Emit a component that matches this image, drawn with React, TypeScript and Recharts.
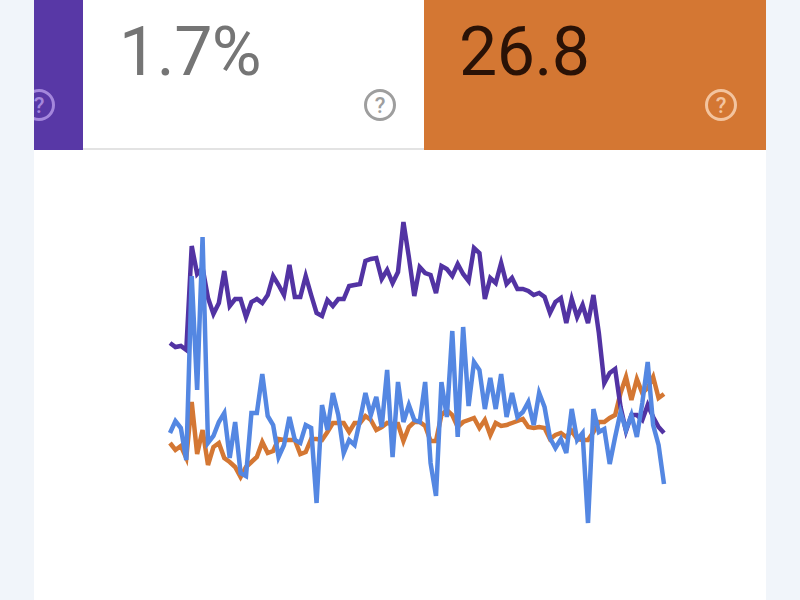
import React from 'react';
import { LineChart, Line, XAxis, YAxis } from 'recharts';

// values, one point per day
const impressions = [187,183,184,180,284,256,262,232,216,227,259,224,231,231,213,228,231,227,235,254,245,235,265,233,233,254,235,217,214,230,224,231,231,244,245,246,269,271,272,251,260,247,258,308,273,234,263,257,255,237,264,261,254,266,256,249,282,277,231,252,247,267,246,252,241,241,239,235,237,233,217,228,232,207,231,213,225,207,235,197,147,157,161,123,99,115,115,110,125,113,103,97];
const position = [87,80,84,72,128,76,100,65,83,87,72,68,63,53,63,68,73,88,77,79,91,90,90,90,76,78,91,91,90,98,107,107,107,98,107,107,114,110,100,103,107,106,106,89,103,108,108,104,89,89,115,120,115,103,108,110,112,102,110,95,107,104,105,107,109,111,103,102,103,102,91,95,97,93,99,91,90,90,98,108,108,112,115,137,153,130,151,137,142,153,132,136];
const clicks = [97,109,102,70,254,140,293,87,94,108,117,72,108,57,54,117,117,156,114,105,73,85,113,90,87,105,102,27,125,100,137,115,77,90,85,110,137,115,133,103,160,73,148,108,125,110,108,148,67,34,148,113,199,93,203,124,168,160,121,152,121,156,113,137,113,118,128,105,137,123,92,82,91,77,121,90,97,7,121,98,101,66,93,118,100,115,93,127,168,105,85,46];

const data = clicks.map((c, i) => ({ day: i, clicks: c, impressions: impressions[i], position: position[i] }));

const PURPLE = '#5838a6';
const ORANGE = '#d47733';
const BLUE = '#5487e2';

function HelpIcon({ left, color }: { left: number; color: string }) {
  return (
    <svg width={36} height={36} style={{ position: 'absolute', left, top: 87 }}>
      <circle cx={18} cy={18} r={14.5} fill='none' stroke={color} strokeWidth={3} />
      <text x={18} y={26} textAnchor='middle' fontSize={22} fontWeight={500} fontFamily='Roboto' fill={color}>?</text>
    </svg>
  );
}

export default function App() {
  return (
    <div style={{ position: 'absolute', left: 0, top: 0, width: 800, height: 600, overflow: 'hidden', background: '#f1f5fa', fontFamily: 'Roboto' }}>
      <div style={{ position: 'absolute', left: 34, top: 0, width: 732, height: 600, background: '#fff', overflow: 'hidden' }}>
        <div style={{ position: 'absolute', left: 0, top: 0, width: 49, height: 150, background: PURPLE }} />
        <HelpIcon left={-13} color='#a487dc' />
        <div style={{ position: 'absolute', left: 49, top: 148, width: 341, height: 2, background: '#e3e3e3' }} />
        <div style={{ position: 'absolute', left: 85, top: 12, fontSize: 68, lineHeight: '80px', letterSpacing: -0.5, color: '#757575' }}>1.7%</div>
        <HelpIcon left={328} color='#9e9e9e' />
        <div style={{ position: 'absolute', left: 390, top: 0, width: 342, height: 150, background: ORANGE }} />
        <div style={{ position: 'absolute', left: 425, top: 12, fontSize: 68, lineHeight: '80px', letterSpacing: -0.5, color: '#2a1206' }}>26.8</div>
        <HelpIcon left={669} color='#f3c49f' />
      </div>
      <div style={{ position: 'absolute', left: 160, top: 210 }}>
        <LineChart width={514} height={320} data={data} margin={{ top: 0, right: 10, bottom: 0, left: 10 }}>
          <XAxis dataKey='day' type='number' domain={[0, 91]} hide />
          <YAxis domain={[0, 320]} hide />
          <Line dataKey='position' stroke={ORANGE} strokeWidth={4.5} dot={false} isAnimationActive={false} />
          <Line dataKey='impressions' stroke='#5233a3' strokeWidth={4.5} dot={false} isAnimationActive={false} />
          <Line dataKey='clicks' stroke={BLUE} strokeWidth={4.5} dot={false} isAnimationActive={false} />
        </LineChart>
      </div>
    </div>
  );
}
